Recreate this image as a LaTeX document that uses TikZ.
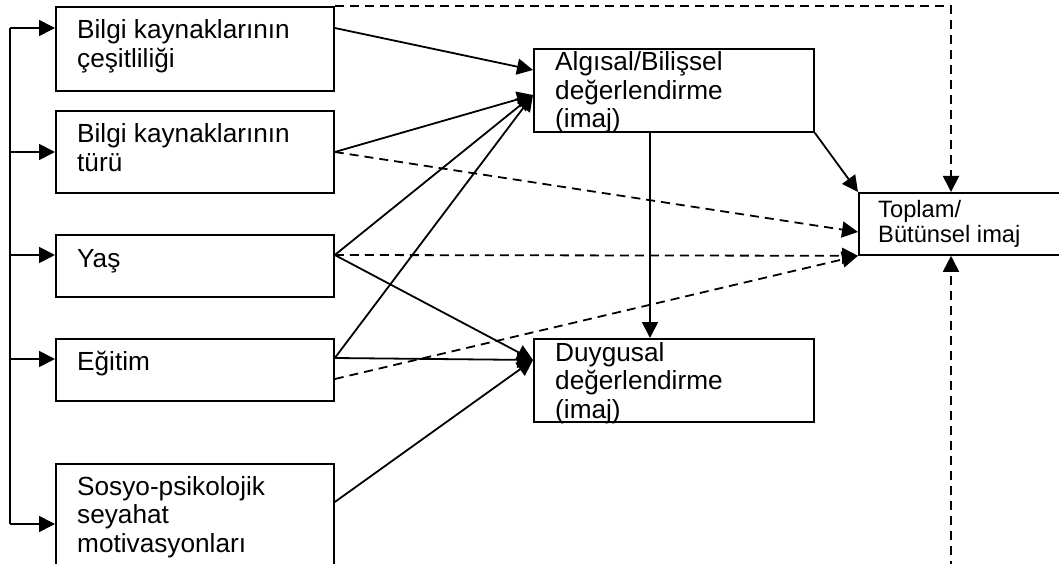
\documentclass[tikz,border=0pt]{standalone}
\usepackage{fontspec}
\setmainfont{Liberation Sans}
\usetikzlibrary{arrows.meta,calc}
% multi-line label whose reference point is the first baseline
\newcommand\txtlines[1]{\begin{tabular}[t]{@{}l@{}}#1\end{tabular}}

\begin{document}
\begin{tikzpicture}[x=1pt,y=-1pt,
  box/.style={draw, line width=1.8pt, rectangle, anchor=north west, inner sep=0pt},
  lbl/.style={anchor=base west, inner sep=0pt, font=\fontsize{26.2}{28.5}\selectfont},
  slbl/.style={anchor=base west, inner sep=0pt, font=\fontsize{23.7}{25}\selectfont},
  link/.style={line width=1.8pt, -{Triangle[length=16pt,width=16pt]}},
  dlink/.style={link, dash pattern=on 9pt off 6pt}]

\useasboundingbox (0,0) rectangle (1059,564);
\clip (0,0) rectangle (1059,564);

% factor boxes on the left
\node[box, minimum width=278pt, minimum height=84pt]  (b1) at (55,6)   {};
\node[box, minimum width=278pt, minimum height=82pt]  (b2) at (55,110) {};
\node[box, minimum width=278pt, minimum height=62pt]  (b3) at (55,234) {};
\node[box, minimum width=278pt, minimum height=62pt]  (b4) at (55,338) {};
\node[box, minimum width=278pt, minimum height=130pt] (b5) at (55,463) {};

% evaluation boxes and overall image
\node[box, minimum width=280pt, minimum height=83pt] (alg) at (533,48)  {};
\node[box, minimum width=280pt, minimum height=83pt] (duy) at (533,338) {};
\node[box, minimum width=260pt, minimum height=62pt] (tot) at (858,192) {};

% labels
\node[lbl] (t1) at (77,39)  {\txtlines{Bilgi kaynaklarının\\çeşitliliği}};
\node[lbl] (t2) at (77,143) {\txtlines{Bilgi kaynaklarının\\türü}};
\node[lbl] (t3) at (77,267) {Yaş};
\node[lbl] (t4) at (77,370) {Eğitim};
\node[lbl] (t5) at (77,495) {\txtlines{Sosyo-psikolojik\\seyahat\\motivasyonları}};
\node[lbl] (ta) at (555,71)  {\txtlines{Algısal/Bilişsel\\değerlendirme\\(imaj)}};
\node[lbl] (td) at (555,361) {\txtlines{Duygusal\\değerlendirme\\(imaj)}};
\node[slbl] (tt) at (878,217) {\txtlines{Toplam/\\Bütünsel imaj}};

% left spine feeding every factor
\coordinate (s1) at (10,28);
\coordinate (s2) at (10,152);
\coordinate (s3) at (10,255);
\coordinate (s4) at (10,359);
\coordinate (s5) at (10,524);
\draw[line width=1.8pt] (s1) -- (s5);
\foreach \i in {1,...,5} \draw[link] (s\i) -- (s\i -| b\i.west);

% solid paths
\draw[link] ($(b1.north east)+(0,22)$) -- ($(alg.north west)+(0,22)$);
\draw[link] ($(b2.north east)+(0,42)$) -- ($(alg.north west)+(0,47)$);
\draw[link] ($(b3.north east)+(0,21)$) -- ($(alg.north west)+(0,47)$);
\draw[link] ($(b4.north east)+(0,20)$) -- ($(alg.north west)+(0,47)$);
\draw[link] ($(b3.north east)+(0,21)$) -- ($(duy.north west)+(0,22)$);
\draw[link] ($(b4.north east)+(0,20)$) -- ($(duy.north west)+(0,22)$);
\draw[link] ($(b5.north east)+(0,39)$) -- ($(duy.north west)+(0,22)$);
\draw[link] ($(alg.south west)+(117,0)$) -- ($(duy.north west)+(117,0)$);
\draw[link] (alg.south east) -- (tot.north west);

% dashed paths
\coordinate (topin) at ($(tot.north west)+(93,0)$);
\coordinate (botin) at ($(tot.south west)+(93,0)$);
\coordinate (botsrc) at (951,570);
\draw[dlink] ($(b2.north east)+(0,42)$) -- ($(tot.north west)+(0,40)$);
\draw[dlink] ($(b3.north east)+(0,21)$) -- (tot.south west);
\draw[dlink] ($(b4.north east)+(0,41)$) -- (tot.south west);
\draw[dlink] (b1.north east) -| (topin);
\draw[dlink] (botsrc) -- (botin);
\end{tikzpicture}
\end{document}
